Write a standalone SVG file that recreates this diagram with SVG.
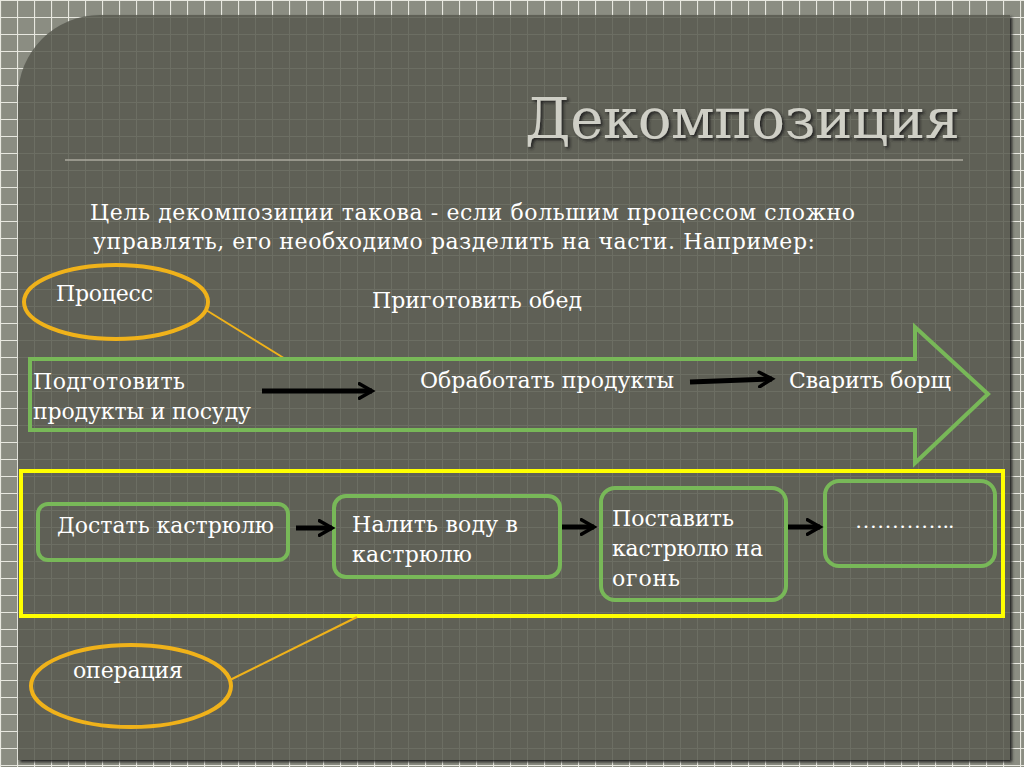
<svg xmlns="http://www.w3.org/2000/svg" width="1024" height="767" viewBox="0 0 1024 767">
<defs>
<pattern id="og" width="17" height="17" patternUnits="userSpaceOnUse"><rect width="17" height="17" fill="#8b8d82"/><path d="M0 0.5H17M0.5 0V17" stroke="#e8e8e0" stroke-width="1.2"/></pattern>
<pattern id="ig" width="17" height="17" patternUnits="userSpaceOnUse"><rect width="17" height="17" fill="#5e6057"/><path d="M0 0.5H17M0.5 0V17" stroke="#6c6e64" stroke-width="1"/></pattern>
<marker id="ah" viewBox="0 0 10 10" refX="8" refY="5" markerWidth="3.6" markerHeight="3.6" orient="auto"><path d="M1 1L8 5L1 9" fill="none" stroke="#000" stroke-width="2" stroke-linecap="round"/></marker>
<filter id="sh"><feDropShadow dx="2" dy="2" stdDeviation="1.5" flood-color="#222"/></filter>
</defs>
<style>
text{font-family:"DejaVu Serif","Liberation Serif",serif;fill:#fff;font-size:22px}
.g{fill:none;stroke:#78b858;stroke-width:4}
.y{fill:none;stroke:#f0b21a;stroke-width:4}
.c{stroke:#000;stroke-width:5;marker-end:url(#ah);fill:none}
</style>
<rect width="1024" height="767" fill="url(#og)"/>
<path d="M100 15H1010V760H18V97A82 82 0 0 1 100 15Z" fill="url(#ig)" filter="url(#sh)"/>
<text x="525" y="138" textLength="435" style="font-size:56px;fill:#cfcfc6" filter="url(#sh)">Декомпозиция</text>
<line x1="65" y1="160" x2="963" y2="160" stroke="#aaa99e" stroke-width="1.5"/>
<text x="90" y="220" textLength="765">Цель декомпозиции такова - если большим процессом сложно</text>
<text x="93" y="249" textLength="722">управлять, его необходимо разделить на части. Например:</text>
<g id="proc"><ellipse cx="116" cy="302" rx="92" ry="37" class="y"/><line x1="206" y1="310" x2="287" y2="360" stroke="#f0b21a" stroke-width="2"/><text x="56" y="301" textLength="97">Процесс</text></g>
<text x="372" y="308" textLength="210">Приготовить обед</text>
<g id="arrow"><path d="M30 359H915V327L988 394L915 463V430H30Z" class="g"/>
<text x="33" y="389" textLength="152">Подготовить</text><text x="33" y="419" textLength="218">продукты и посуду</text>
<text x="420" y="388" textLength="254">Обработать продукты</text><text x="789" y="388" textLength="162">Сварить борщ</text></g>
<rect id="ops" x="21" y="471" width="982" height="145" fill="none" stroke="#ffff00" stroke-width="4"/>
<g id="n1"><rect x="38" y="504" width="250" height="56" rx="10" class="g"/><text x="57" y="533" textLength="217">Достать кастрюлю</text></g>
<g id="n2"><rect x="334" y="496" width="226" height="81" rx="12" class="g"/><text x="352" y="532" textLength="166">Налить воду в</text><text x="352" y="562" textLength="120">кастрюлю</text></g>
<g id="n3"><rect x="601" y="488" width="185" height="112" rx="14" class="g"/><text x="612" y="526" textLength="122">Поставить</text><text x="612" y="556" textLength="151">кастрюлю на</text><text x="612" y="586" textLength="68">огонь</text></g>
<g id="n4"><rect x="825" y="481" width="170" height="85" rx="14" class="g"/><text x="855" y="528" style="font-family:'Liberation Serif',serif">…………..</text></g>
<g id="op"><ellipse cx="131" cy="686" rx="100" ry="41" class="y"/><line x1="230" y1="680" x2="357" y2="617" stroke="#f0b21a" stroke-width="2"/><text x="73" y="678" textLength="110">операция</text></g>
<g id="connectors">
<line x1="262" y1="391" x2="372" y2="391" class="c"/>
<line x1="690" y1="382" x2="772" y2="379" class="c"/>
<line x1="296" y1="528" x2="332" y2="528" class="c"/>
<line x1="562" y1="527" x2="594" y2="527" class="c"/>
<line x1="788" y1="527" x2="820" y2="527" class="c"/>
</g>
</svg>
